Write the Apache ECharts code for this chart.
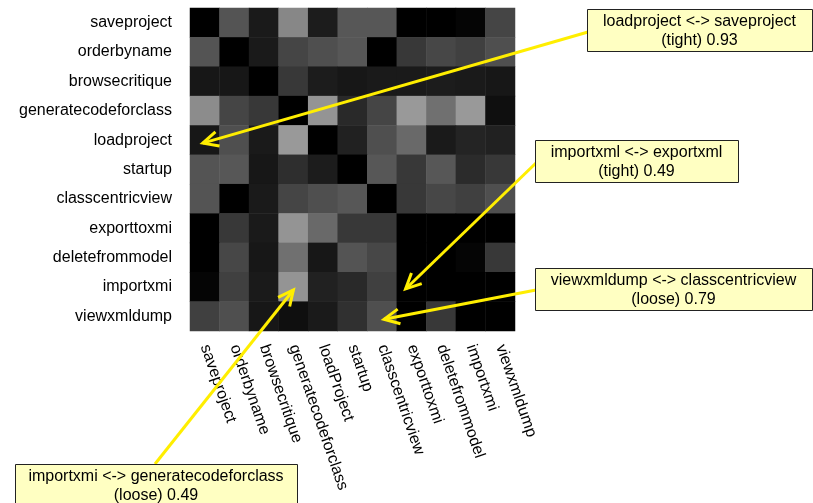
<!DOCTYPE html>
<html>
<head>
<meta charset="utf-8">
<script src="https://cdn.jsdelivr.net/npm/echarts@6/dist/echarts.min.js"></script>
<style>html,body{margin:0;padding:0;background:#fff;}#c{width:813px;height:503px;}</style>
</head>
<body>
<div id="c"></div>
<script>
// Categories
const xLabels = ['saveproject','orderbyname','browsecritique','generatecodeforclass','loadProject','startup','classcentricview','exporttoxmi','deletefrommodel','importxmi','viewxmldump'];
const yLabels = ['saveproject','orderbyname','browsecritique','generatecodeforclass','loadproject','startup','classcentricview','exporttoxmi','deletefrommodel','importxmi','viewxmldump'];

// Cell brightness (0 = black, 1 = white), one array per row
const rowSaveproject      = [0.00, 0.33, 0.10, 0.53, 0.11, 0.34, 0.34, 0.00, 0.00, 0.02, 0.27];
const rowOrderbyname      = [0.33, 0.00, 0.10, 0.27, 0.31, 0.34, 0.00, 0.22, 0.28, 0.25, 0.31];
const rowBrowsecritique   = [0.09, 0.09, 0.00, 0.22, 0.11, 0.09, 0.10, 0.10, 0.11, 0.10, 0.09];
const rowGeneratecode     = [0.55, 0.27, 0.22, 0.00, 0.58, 0.16, 0.27, 0.60, 0.44, 0.60, 0.06];
const rowLoadproject      = [0.09, 0.31, 0.10, 0.60, 0.00, 0.13, 0.31, 0.41, 0.10, 0.14, 0.13];
const rowStartup          = [0.33, 0.34, 0.09, 0.18, 0.11, 0.00, 0.34, 0.22, 0.34, 0.17, 0.22];
const rowClasscentricview = [0.33, 0.00, 0.10, 0.27, 0.31, 0.34, 0.00, 0.22, 0.28, 0.25, 0.31];
const rowExporttoxmi      = [0.00, 0.22, 0.10, 0.58, 0.41, 0.22, 0.22, 0.00, 0.00, 0.00, 0.00];
const rowDeletefrommodel  = [0.00, 0.28, 0.09, 0.44, 0.09, 0.33, 0.28, 0.00, 0.00, 0.02, 0.22];
const rowImportxmi        = [0.02, 0.25, 0.10, 0.58, 0.13, 0.16, 0.25, 0.00, 0.00, 0.00, 0.00];
const rowViewxmldump      = [0.25, 0.31, 0.09, 0.06, 0.10, 0.19, 0.31, 0.00, 0.22, 0.00, 0.00];

// Annotations: text and target cell [x index, y index]
const annotationTexts = [
  'loadproject <-> saveproject\n(tight) 0.93',
  'importxml <-> exportxml\n(tight) 0.49',
  'viewxmldump <-> classcentricview\n(loose) 0.79',
  'importxmi <-> generatecodeforclass\n(loose) 0.49'
];
const annotationTargets = [[0, 4], [7, 9], [6, 10], [3, 9]];

const rows = [rowSaveproject,rowOrderbyname,rowBrowsecritique,rowGeneratecode,rowLoadproject,rowStartup,rowClasscentricview,rowExporttoxmi,rowDeletefrommodel,rowImportxmi,rowViewxmldump];
const data = [];
rows.forEach((r, yi) => r.forEach((v, xi) => data.push([xi, yi, v])));

const FONT = "'Liberation Sans', Arial, Helvetica, sans-serif";
const chart = echarts.init(document.getElementById('c'), null, {renderer: 'canvas'});
chart.setOption({
  animation: false,
  backgroundColor: '#fff',
  grid: {left: 190, top: 8, width: 325, height: 323},
  xAxis: {
    type: 'category', data: xLabels,
    axisLine: {show: false}, axisTick: {show: false}, splitLine: {show: false},
    axisLabel: {rotate: -71, interval: 0, margin: 14, fontSize: 16, color: '#000', fontFamily: FONT}
  },
  yAxis: {
    type: 'category', data: yLabels, inverse: true,
    axisLine: {show: false}, axisTick: {show: false}, splitLine: {show: false},
    axisLabel: {interval: 0, margin: 18, fontSize: 16, color: '#000', fontFamily: FONT}
  },
  visualMap: {show: false, min: 0, max: 1, dimension: 2, inRange: {color: ['#000000', '#ffffff']}},
  series: [{type: 'heatmap', data: data, itemStyle: {borderWidth: 0}, emphasis: {disabled: true}}]
});

// Layout of annotation boxes (positions only)
const boxes = [
  {x: 587, y: 9, w: 225, h: 42, from: [588, 32]},
  {x: 535, y: 140, w: 203, h: 42, from: [536, 163]},
  {x: 535, y: 268, w: 277, h: 42, from: [536, 290]},
  {x: 15, y: 464, w: 282, h: 42, from: [155, 464]}
];
const tipOffset = [[-2, 3], [-6, 2], [2, 3], [0, 3]];
const ARROW = '#ffee00';
const graphics = [];
annotationTargets.forEach((t, i) => {
  const p = chart.convertToPixel({gridIndex: 0}, [xLabels[t[0]], yLabels[t[1]]]);
  const tip = [p[0] + tipOffset[i][0], p[1] + tipOffset[i][1]];
  const b = boxes[i];
  const from = b.from;
  const ang = Math.atan2(from[1] - tip[1], from[0] - tip[0]);
  const L = 17, A = 0.45;
  const h1 = [tip[0] + L * Math.cos(ang + A), tip[1] + L * Math.sin(ang + A)];
  const h2 = [tip[0] + L * Math.cos(ang - A), tip[1] + L * Math.sin(ang - A)];
  graphics.push({type: 'polyline', shape: {points: [from, tip]}, style: {stroke: ARROW, lineWidth: 3}, z: 100});
  graphics.push({type: 'polyline', shape: {points: [h1, tip, h2]}, style: {stroke: ARROW, lineWidth: 3, lineJoin: 'miter'}, z: 100});
  graphics.push({type: 'rect', shape: {x: b.x + 0.5, y: b.y + 0.5, width: b.w, height: b.h}, style: {fill: '#ffffc2', stroke: '#222', lineWidth: 1}, z: 101});
  graphics.push({type: 'text', x: b.x + b.w / 2, y: b.y + b.h / 2 + 1, style: {text: annotationTexts[i], fill: '#000', font: '16px ' + FONT, align: 'center', verticalAlign: 'middle', lineHeight: 19}, z: 102});
});
chart.setOption({graphic: graphics});
</script>
</body>
</html>
